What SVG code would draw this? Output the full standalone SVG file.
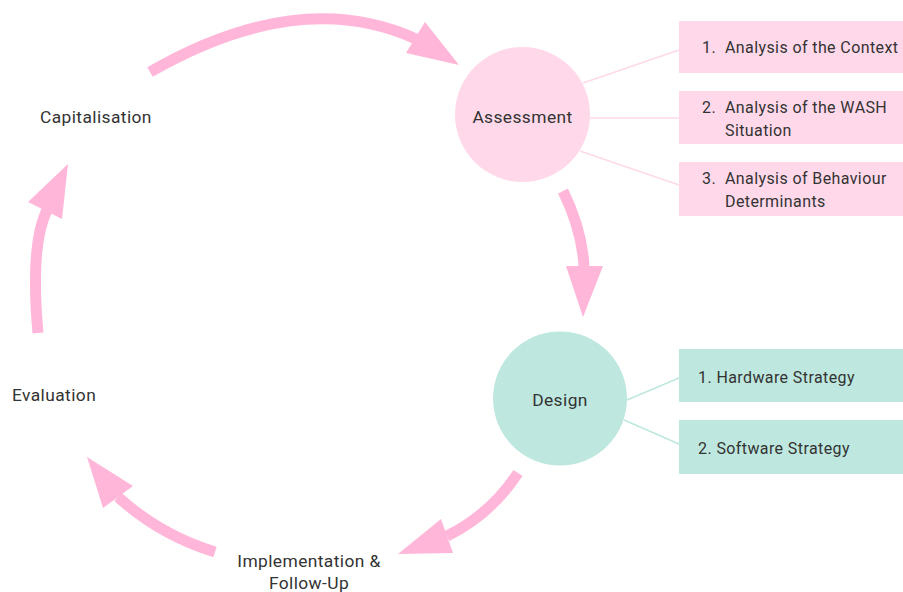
<svg xmlns="http://www.w3.org/2000/svg" width="903" height="592" viewBox="0 0 903 592">
<style>
.t{font-family:Roboto,"Liberation Sans",sans-serif;font-size:16px;fill:#333;letter-spacing:0.4px}
.l{font-size:17.4px}
.shaft{fill:none;stroke:#ffb6d9;stroke-width:11}
.head{fill:#ffb6d9}
.pl{stroke:#ffd9ea;stroke-width:1.5}
.gl{stroke:#bee8df;stroke-width:1.5}
.pb{fill:#ffd9ea}
.gb{fill:#bee8df}
</style>
<rect width="903" height="592" fill="#fff"/>
<g id="connectors">
<path class="shaft" d="M150,72 Q300,-14 416,39"/>
<polygon class="head" points="425,22 406,53 459,65"/>
<path class="shaft" d="M563,191 Q582,230 584,266"/>
<polygon class="head" points="566,266 603,266 583,317"/>
<path class="shaft" d="M518,473 Q490,515 447,536"/>
<polygon class="head" points="441,519 453,553 398,554"/>
<path class="shaft" d="M215,552 Q160,535 118,497"/>
<polygon class="head" points="133,486 103,508 87,457"/>
<path class="shaft" d="M38,333 Q30,245 47,210"/>
<polygon class="head" points="28,202 62,219 68,164"/>
<line class="pl" x1="583" y1="83" x2="679" y2="50"/>
<line class="pl" x1="590" y1="118" x2="679" y2="118"/>
<line class="pl" x1="580" y1="151" x2="679" y2="185"/>
<line class="gl" x1="627" y1="400" x2="679" y2="378"/>
<line class="gl" x1="624" y1="420" x2="679" y2="444"/>
</g>
<g id="capitalisation"><text class="t l" x="40" y="123">Capitalisation</text></g>
<g id="evaluation"><text class="t l" x="12" y="401">Evaluation</text></g>
<g id="implementation"><text class="t l" x="309" y="567" text-anchor="middle">Implementation &amp;</text><text class="t l" x="309" y="589" text-anchor="middle">Follow-Up</text></g>
<g id="assessment"><circle cx="522.5" cy="114.5" r="67.5" fill="#ffd9ea"/><text class="t l" x="522.5" y="123" text-anchor="middle">Assessment</text></g>
<g id="design"><circle cx="560" cy="398.5" r="67" fill="#bee8df"/><text class="t l" x="560" y="406" text-anchor="middle">Design</text></g>
<g id="a1"><rect class="pb" x="679" y="21" width="224" height="52"/><text class="t" x="702" y="53">1.</text><text class="t" x="725" y="53">Analysis of the Context</text></g>
<g id="a2"><rect class="pb" x="679" y="91" width="224" height="53"/><text class="t" x="702" y="113">2.</text><text class="t" x="725" y="113">Analysis of the WASH</text><text class="t" x="725" y="136">Situation</text></g>
<g id="a3"><rect class="pb" x="679" y="162" width="224" height="54"/><text class="t" x="702" y="184">3.</text><text class="t" x="725" y="184">Analysis of Behaviour</text><text class="t" x="725" y="207">Determinants</text></g>
<g id="d1"><rect class="gb" x="679" y="349" width="224" height="53"/><text class="t" x="698" y="383">1. Hardware Strategy</text></g>
<g id="d2"><rect class="gb" x="679" y="420" width="224" height="54"/><text class="t" x="698" y="454">2. Software Strategy</text></g>
</svg>
